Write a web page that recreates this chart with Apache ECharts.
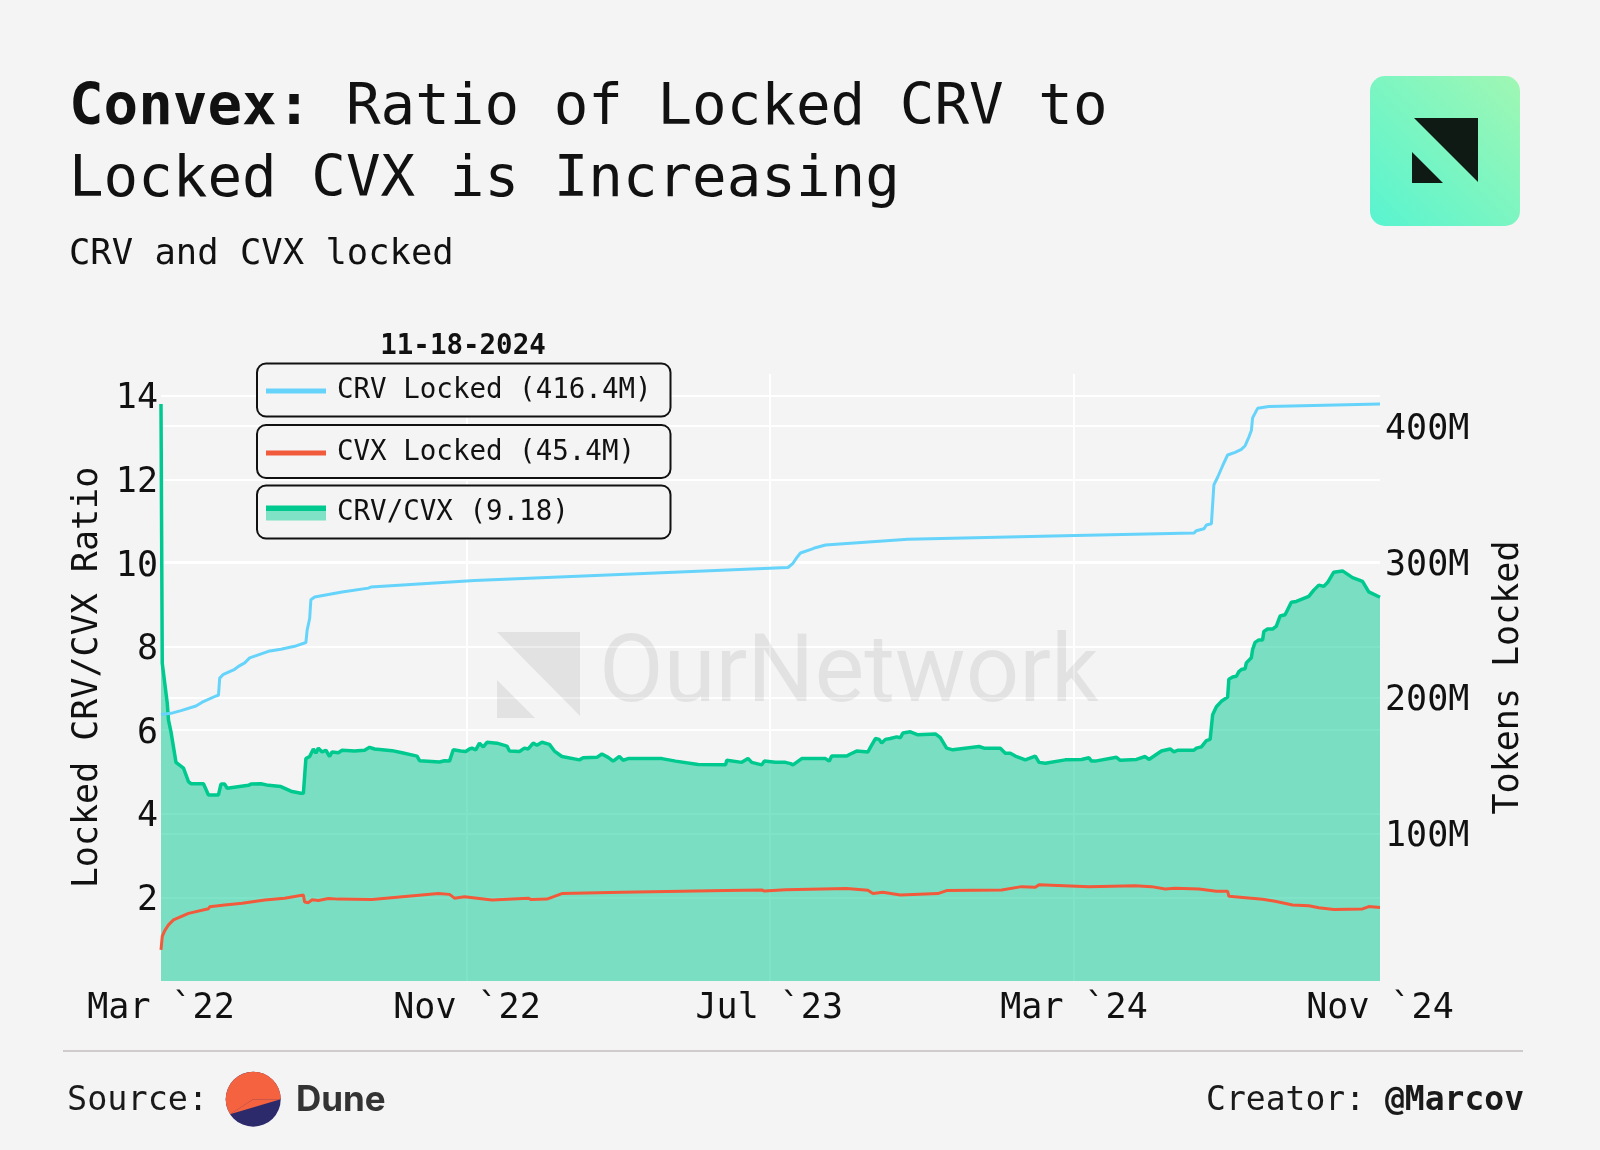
<!DOCTYPE html>
<html>
<head>
<meta charset="utf-8">
<title>Convex: Ratio of Locked CRV to Locked CVX</title>
<script src="https://cdn.jsdelivr.net/npm/echarts@6/dist/echarts.min.js"></script>
<style>
  html, body { margin: 0; padding: 0; background: #f4f4f4; }
  #chart { width: 1600px; height: 1150px; }
</style>
</head>
<body>
<div id="chart"></div>
<script>
(function () {
  "use strict";

  // ---- data ----
  // CRV/CVX ratio, left axis
  var ratioDates = [
    "2022-03-01", "2022-03-02", "2022-03-06", "2022-03-07", "2022-03-09", "2022-03-13", "2022-03-19", "2022-03-23", "2022-03-25", "2022-04-04",
    "2022-04-08", "2022-04-16", "2022-04-18", "2022-04-21", "2022-04-23", "2022-05-10", "2022-05-12", "2022-05-20", "2022-05-26", "2022-06-05",
    "2022-06-13", "2022-06-21", "2022-06-23", "2022-06-25", "2022-06-28", "2022-07-01", "2022-07-03", "2022-07-05", "2022-07-08", "2022-07-11",
    "2022-07-14", "2022-07-16", "2022-07-21", "2022-07-24", "2022-08-03", "2022-08-11", "2022-08-15", "2022-08-19", "2022-09-02", "2022-09-10",
    "2022-09-22", "2022-09-24", "2022-10-10", "2022-10-14", "2022-10-18", "2022-10-21", "2022-10-27", "2022-10-31", "2022-11-03", "2022-11-05",
    "2022-11-08", "2022-11-11", "2022-11-14", "2022-11-17", "2022-11-25", "2022-12-03", "2022-12-05", "2022-12-13", "2022-12-17", "2022-12-20",
    "2022-12-24", "2022-12-27", "2022-12-31", "2023-01-06", "2023-01-10", "2023-01-16", "2023-01-30", "2023-02-02", "2023-02-13", "2023-02-17",
    "2023-02-22", "2023-02-26", "2023-03-03", "2023-03-06", "2023-03-10", "2023-04-06", "2023-04-17", "2023-05-05", "2023-05-27", "2023-05-28",
    "2023-06-09", "2023-06-14", "2023-06-17", "2023-06-25", "2023-06-27", "2023-07-06", "2023-07-14", "2023-07-18", "2023-07-20", "2023-07-27",
    "2023-08-15", "2023-08-18", "2023-08-20", "2023-09-01", "2023-09-04", "2023-09-09", "2023-09-18", "2023-09-21", "2023-09-24", "2023-09-27",
    "2023-09-29", "2023-10-02", "2023-10-06", "2023-10-11", "2023-10-14", "2023-10-16", "2023-10-22", "2023-10-28", "2023-11-11", "2023-11-15",
    "2023-11-20", "2023-11-25", "2023-12-16", "2023-12-20", "2024-01-02", "2024-01-06", "2024-01-10", "2024-01-14", "2024-01-22", "2024-01-30",
    "2024-02-02", "2024-02-07", "2024-02-23", "2024-03-07", "2024-03-13", "2024-03-15", "2024-03-18", "2024-04-04", "2024-04-07", "2024-04-20",
    "2024-04-27", "2024-04-30", "2024-05-10", "2024-05-17", "2024-05-20", "2024-05-23", "2024-06-05", "2024-06-07", "2024-06-11", "2024-06-15",
    "2024-06-18", "2024-06-20", "2024-06-23", "2024-06-27", "2024-07-02", "2024-07-03", "2024-07-06", "2024-07-09", "2024-07-11", "2024-07-13",
    "2024-07-16", "2024-07-17", "2024-07-21", "2024-07-22", "2024-07-24", "2024-07-27", "2024-07-30", "2024-07-31", "2024-08-03", "2024-08-07",
    "2024-08-10", "2024-08-13", "2024-08-17", "2024-08-22", "2024-08-26", "2024-09-05", "2024-09-09", "2024-09-13", "2024-09-17", "2024-09-20",
    "2024-09-25", "2024-10-02", "2024-10-10", "2024-10-18", "2024-10-23", "2024-11-01"
  ];
  var ratioValues = [
    13.8, 7.6, 6.65, 6.24, 5.96, 5.23, 5.09, 4.77, 4.72, 4.72,
    4.45, 4.45, 4.71, 4.71, 4.61, 4.68, 4.71, 4.72, 4.68, 4.65,
    4.54, 4.49, 4.49, 5.32, 5.37, 5.55, 5.45, 5.57, 5.48, 5.52,
    5.37, 5.48, 5.46, 5.52, 5.50, 5.52, 5.59, 5.55, 5.51, 5.46,
    5.38, 5.27, 5.24, 5.27, 5.26, 5.53, 5.50, 5.49, 5.55, 5.57,
    5.53, 5.69, 5.60, 5.71, 5.69, 5.62, 5.50, 5.49, 5.57, 5.55,
    5.69, 5.64, 5.71, 5.66, 5.50, 5.37, 5.29, 5.34, 5.35, 5.43,
    5.35, 5.26, 5.37, 5.28, 5.32, 5.32, 5.26, 5.18, 5.17, 5.28,
    5.23, 5.32, 5.23, 5.17, 5.26, 5.23, 5.23, 5.20, 5.17, 5.32,
    5.32, 5.26, 5.38, 5.38, 5.43, 5.50, 5.48, 5.64, 5.80, 5.78,
    5.69, 5.78, 5.80, 5.84, 5.82, 5.93, 5.96, 5.89, 5.91, 5.82,
    5.57, 5.53, 5.61, 5.57, 5.57, 5.45, 5.45, 5.38, 5.29, 5.38,
    5.23, 5.21, 5.29, 5.30, 5.34, 5.26, 5.26, 5.35, 5.28, 5.30,
    5.37, 5.30, 5.50, 5.55, 5.48, 5.52, 5.52, 5.57, 5.60, 5.75,
    5.78, 6.37, 6.56, 6.69, 6.79, 7.22, 7.27, 7.29, 7.40, 7.45,
    7.47, 7.61, 7.73, 7.93, 8.10, 8.16, 8.16, 8.36, 8.42, 8.42,
    8.49, 8.73, 8.76, 9.06, 9.08, 9.20, 9.35, 9.47, 9.44, 9.53,
    9.78, 9.81, 9.65, 9.56, 9.31, 9.18
  ];

  // CRV locked, millions, right axis
  var crvDates = [
    "2022-03-01", "2022-03-09", "2022-03-17", "2022-03-29", "2022-04-03", "2022-04-14", "2022-04-16", "2022-04-17", "2022-04-20", "2022-04-29",
    "2022-05-02", "2022-05-07", "2022-05-11", "2022-05-26", "2022-06-05", "2022-06-16", "2022-06-25", "2022-06-26", "2022-06-28", "2022-06-29",
    "2022-07-02", "2022-07-24", "2022-08-14", "2022-08-16", "2022-11-07", "2023-03-08", "2023-07-06", "2023-07-16", "2023-07-20", "2023-07-23",
    "2023-07-26", "2023-08-04", "2023-08-07", "2023-08-15", "2023-10-20", "2024-03-02", "2024-06-05", "2024-06-07", "2024-06-13", "2024-06-15",
    "2024-06-19", "2024-06-21", "2024-06-24", "2024-06-28", "2024-07-02", "2024-07-08", "2024-07-13", "2024-07-16", "2024-07-19", "2024-07-21",
    "2024-07-22", "2024-07-26", "2024-08-04", "2024-11-01"
  ];
  var crvValues = [
    187.6, 188.4, 190.4, 193.8, 196.6, 201.2, 201.7, 214.4, 217.2, 220.9,
    223.0, 225.6, 229.3, 234.1, 235.7, 237.8, 240.6, 249.7, 258.1, 272.2,
    274.1, 277.8, 280.7, 281.5, 286.3, 291.0, 295.6, 295.9, 299.0, 303.2,
    306.6, 309.4, 310.5, 312.5, 316.7, 319.5, 321.3, 323.0, 324.4, 327.2,
    328.1, 356.8, 362.4, 370.9, 378.8, 380.8, 383.0, 385.6, 392.0, 396.8,
    406.2, 413.2, 414.6, 416.4
  ];

  // CVX locked, millions, right axis
  var cvxDates = [
    "2022-03-01", "2022-03-02", "2022-03-04", "2022-03-07", "2022-03-11", "2022-03-12", "2022-03-23", "2022-04-08", "2022-04-09", "2022-04-21",
    "2022-05-05", "2022-05-23", "2022-06-08", "2022-06-23", "2022-06-24", "2022-06-27", "2022-06-30", "2022-07-05", "2022-07-13", "2022-07-21",
    "2022-08-17", "2022-10-09", "2022-10-18", "2022-10-22", "2022-10-30", "2022-11-21", "2022-12-20", "2022-12-22", "2023-01-04", "2023-01-16",
    "2023-03-05", "2023-05-27", "2023-05-28", "2023-06-25", "2023-06-27", "2023-07-14", "2023-09-01", "2023-09-18", "2023-09-22", "2023-09-30",
    "2023-10-14", "2023-11-13", "2023-11-20", "2024-01-03", "2024-01-19", "2024-01-30", "2024-02-02", "2024-03-13", "2024-03-14", "2024-04-19",
    "2024-05-02", "2024-05-13", "2024-05-21", "2024-06-09", "2024-06-23", "2024-07-02", "2024-07-03", "2024-07-30", "2024-08-09", "2024-08-23",
    "2024-09-05", "2024-09-13", "2024-09-25", "2024-10-18", "2024-10-23", "2024-11-01"
  ];
  var cvxValues = [
    14.1, 24.0, 28.3, 32.5, 36.2, 37.6, 41.0, 44.4, 45.9, 47.2,
    48.4, 50.8, 52.2, 54.5, 49.4, 48.9, 51.0, 50.5, 52.0, 51.5,
    51.2, 55.6, 55.0, 52.2, 53.3, 50.8, 52.2, 51.3, 51.5, 55.6,
    56.5, 57.8, 56.9, 58.3, 57.4, 58.4, 59.3, 58.0, 55.6, 56.5,
    54.5, 55.6, 57.8, 58.3, 60.7, 60.2, 62.1, 60.7, 61.6, 61.3,
    60.7, 59.0, 59.6, 59.0, 57.3, 57.3, 53.6, 51.4, 50.0, 47.2,
    46.6, 45.2, 43.8, 44.3, 46.0, 45.4
  ];

  var seriesNames = ["CRV Locked (416.4M)", "CVX Locked (45.4M)", "CRV/CVX (9.18)"];
  var xTickDates = ["2022-03-01", "2022-11-01", "2023-07-01", "2024-03-01", "2024-11-01"];
  var xGridDates = ["2022-11-01", "2023-07-01", "2024-03-01"];
  var ratioTicks = [2, 4, 6, 8, 10, 12, 14];
  var tokenTicks = [100, 200, 300, 400];
  var MONTHS = ["Jan", "Feb", "Mar", "Apr", "May", "Jun", "Jul", "Aug", "Sep", "Oct", "Nov", "Dec"];

  var MONO = '"DejaVu Sans Mono", "Liberation Mono", monospace';
  var INK = "#111111";
  var GREEN = "#00c98f";
  var BLUE = "#66d3fa";
  var RED = "#f25a3c";

  function ts(s) {
    var p = s.split("-").map(Number);
    return new Date(p[0], p[1] - 1, p[2]).getTime();
  }

  function pairs(dates, values) {
    if (dates.length !== values.length) throw new Error("length mismatch " + dates.length + " vs " + values.length);
    return dates.map(function (d, i) { return [ts(d), values[i]]; });
  }

  function legendBox(item, top, iconHeight) {
    return {
      data: [item],
      left: 266,
      top: top,
      padding: 0,
      z: 6,
      icon: "rect",
      itemWidth: 60,
      itemHeight: iconHeight,
      selectedMode: false,
      textStyle: { fontFamily: MONO, fontSize: 27.5, color: INK, lineHeight: 30, padding: [0, 0, 0, 6] }
    };
  }

  // y tick labels sit a few px low in the original, nudge them with rich padding
  var tickRich = { t: { fontFamily: MONO, fontSize: 35, color: INK, padding: [7, 0, 0, 0] } };

  // Dune logo: orange cap = big sector + triangle back to the chord ends
  var DUNE = { cx: 253.2, cy: 1099.2, r: 27.5 };
  var chordA = Math.atan2(1114.3 - DUNE.cy, 230 - DUNE.cx);

  var chart = echarts.init(document.getElementById("chart"), null, { renderer: "canvas" });

  chart.setOption({
    backgroundColor: "#f4f4f4",
    animation: false,
    textStyle: { fontFamily: MONO },
    title: [
      {
        text: "{b|Convex:} Ratio of Locked CRV to\nLocked CVX is Increasing",
        left: 69,
        top: 73,
        padding: 0,
        textStyle: {
          fontFamily: MONO, fontSize: 57.5, fontWeight: "normal", color: INK, lineHeight: 72,
          rich: { b: { fontFamily: MONO, fontSize: 57.5, fontWeight: "bold", color: INK, lineHeight: 72 } }
        }
      },
      {
        text: "CRV and CVX locked",
        left: 69,
        top: 235,
        padding: 0,
        textStyle: { fontFamily: MONO, fontSize: 35.5, fontWeight: "normal", color: INK, lineHeight: 40 }
      }
    ],
    legend: [
      legendBox(seriesNames[0], 376, 5),
      legendBox(seriesNames[1], 438, 5),
      legendBox({
        name: seriesNames[2],
        itemStyle: {
          color: new echarts.graphic.LinearGradient(0, 0, 0, 1, [
            { offset: 0, color: GREEN },
            { offset: 0.34, color: GREEN },
            { offset: 0.34, color: "#7fe2c6" },
            { offset: 1, color: "#7fe2c6" }
          ])
        }
      }, 498, 15)
    ],
    grid: { left: 161, right: 220, top: 374, bottom: 169, containLabel: false, outerBoundsMode: "none" },
    // dates as timestamps on a value axis so the month ticks can be placed exactly
    xAxis: {
      type: "value",
      min: ts(xTickDates[0]),
      max: ts(xTickDates[xTickDates.length - 1]),
      axisLine: { show: false },
      axisTick: { show: false, customValues: xGridDates.map(ts) },
      splitLine: { show: true, lineStyle: { color: "#ffffff", width: 2 } },
      axisLabel: {
        customValues: xTickDates.map(ts),
        margin: 10,
        fontFamily: MONO,
        fontSize: 35,
        color: INK,
        formatter: function (v) {
          var d = new Date(v);
          return MONTHS[d.getMonth()] + " `" + String(d.getFullYear()).slice(2);
        }
      }
    },
    yAxis: [
      {
        type: "value",
        min: 0,
        max: 14.52,
        name: "Locked CRV/CVX Ratio",
        nameLocation: "middle",
        nameRotate: 90,
        nameGap: 50,
        nameTextStyle: { fontFamily: MONO, fontSize: 35, color: INK },
        axisLine: { show: false },
        axisTick: { show: false, customValues: ratioTicks },
        splitLine: { show: true, lineStyle: { color: "#ffffff", width: 2 } },
        axisLabel: {
          customValues: ratioTicks, margin: 3, fontFamily: MONO, fontSize: 35, color: INK,
          rich: tickRich,
          formatter: function (v) { return "{t|" + v + "}"; }
        }
      },
      {
        type: "value",
        position: "right",
        min: -8.84,
        max: 438.5,
        name: "Tokens Locked",
        nameLocation: "middle",
        nameRotate: 90,
        nameGap: 111,
        nameTextStyle: { fontFamily: MONO, fontSize: 35, color: INK },
        axisLine: { show: false },
        axisTick: { show: false, customValues: tokenTicks },
        splitLine: { show: true, lineStyle: { color: "#ffffff", width: 2 } },
        axisLabel: {
          customValues: tokenTicks, margin: 5, fontFamily: MONO, fontSize: 35, color: INK,
          rich: tickRich,
          formatter: function (v) { return "{t|" + v + "M}"; }
        }
      }
    ],
    series: [
      {
        name: seriesNames[2],
        type: "line",
        yAxisIndex: 0,
        data: pairs(ratioDates, ratioValues),
        showSymbol: false,
        color: GREEN,
        lineStyle: { color: GREEN, width: 3.5 },
        areaStyle: { color: "rgba(0,201,143,0.5)", opacity: 1 },
        z: 2
      },
      {
        name: seriesNames[0],
        type: "line",
        yAxisIndex: 1,
        data: pairs(crvDates, crvValues),
        showSymbol: false,
        color: BLUE,
        lineStyle: { color: BLUE, width: 3 },
        z: 3
      },
      {
        name: seriesNames[1],
        type: "line",
        yAxisIndex: 1,
        data: pairs(cvxDates, cvxValues),
        showSymbol: false,
        color: RED,
        lineStyle: { color: RED, width: 3 },
        z: 3
      }
    ],
    graphic: [
      // OurNetwork watermark
      { type: "polygon", z: 1, shape: { points: [[497, 632], [580, 632], [580, 716]] }, style: { fill: "rgba(0,0,0,0.07)" } },
      { type: "polygon", z: 1, shape: { points: [[497, 680], [497, 718], [535, 718]] }, style: { fill: "rgba(0,0,0,0.07)" } },
      {
        type: "text", z: 1, x: 599, y: 677,
        style: { text: "OurNetwork", font: "94px Roboto", fill: "rgba(0,0,0,0.07)", textAlign: "left", textVerticalAlign: "middle" }
      },
      // logo
      {
        type: "rect", z: 10,
        shape: { x: 1370, y: 76, width: 150, height: 150, r: 15 },
        style: {
          fill: new echarts.graphic.LinearGradient(1, 0, 0, 1, [
            { offset: 0, color: "#a0f7b3" },
            { offset: 1, color: "#58f4d0" }
          ])
        }
      },
      { type: "polygon", z: 11, shape: { points: [[1414, 118], [1478, 118], [1478, 182]] }, style: { fill: "#0e1a13" } },
      { type: "polygon", z: 11, shape: { points: [[1412, 152], [1412, 183], [1443, 183]] }, style: { fill: "#0e1a13" } },
      // legend boxes and date
      {
        type: "text", z: 10, x: 463, y: 347,
        style: { text: "11-18-2024", font: "bold 27.5px " + MONO, fill: INK, textAlign: "center", textVerticalAlign: "middle" }
      },
      { type: "rect", z: 4, shape: { x: 257, y: 363.5, width: 413.5, height: 53, r: 9 }, style: { fill: "#f4f4f4", stroke: INK, lineWidth: 2 } },
      { type: "rect", z: 4, shape: { x: 257, y: 425, width: 413.5, height: 53, r: 9 }, style: { fill: "#f4f4f4", stroke: INK, lineWidth: 2 } },
      { type: "rect", z: 4, shape: { x: 257, y: 485.5, width: 413.5, height: 53, r: 9 }, style: { fill: "#f4f4f4", stroke: INK, lineWidth: 2 } },
      // footer
      { type: "line", z: 10, shape: { x1: 63, y1: 1051, x2: 1523, y2: 1051 }, style: { stroke: "#cfcbcd", lineWidth: 2 } },
      {
        type: "text", z: 10, x: 67, y: 1101,
        style: { text: "Source:", font: "33.5px " + MONO, fill: "#1a1a1a", textAlign: "left", textVerticalAlign: "middle" }
      },
      { type: "circle", z: 10, shape: { cx: DUNE.cx, cy: DUNE.cy, r: DUNE.r }, style: { fill: "#2c2a6a" } },
      {
        type: "sector", z: 11,
        shape: { cx: DUNE.cx, cy: DUNE.cy, r0: 0, r: DUNE.r, startAngle: chordA, endAngle: Math.PI * 2, clockwise: true },
        style: { fill: "#f4623f" }
      },
      {
        type: "polygon", z: 11,
        shape: { points: [[DUNE.cx, DUNE.cy], [230, 1114.3], [DUNE.cx + DUNE.r, DUNE.cy]] },
        style: { fill: "#f4623f" }
      },
      {
        type: "text", z: 10, x: 296, y: 1100,
        style: { text: "Dune", font: "bold 35px Inter", fill: "#333333", textAlign: "left", textVerticalAlign: "middle" }
      },
      {
        type: "text", z: 10, x: 1524, y: 1101,
        style: {
          text: "{r|Creator: }{b|@Marcov}",
          textAlign: "right", textVerticalAlign: "middle",
          rich: {
            r: { font: "33px " + MONO, fill: "#1a1a1a" },
            b: { font: "bold 33px " + MONO, fill: "#1a1a1a" }
          }
        }
      }
    ]
  });

  window.addEventListener("resize", function () { chart.resize(); });
})();
</script>
</body>
</html>
